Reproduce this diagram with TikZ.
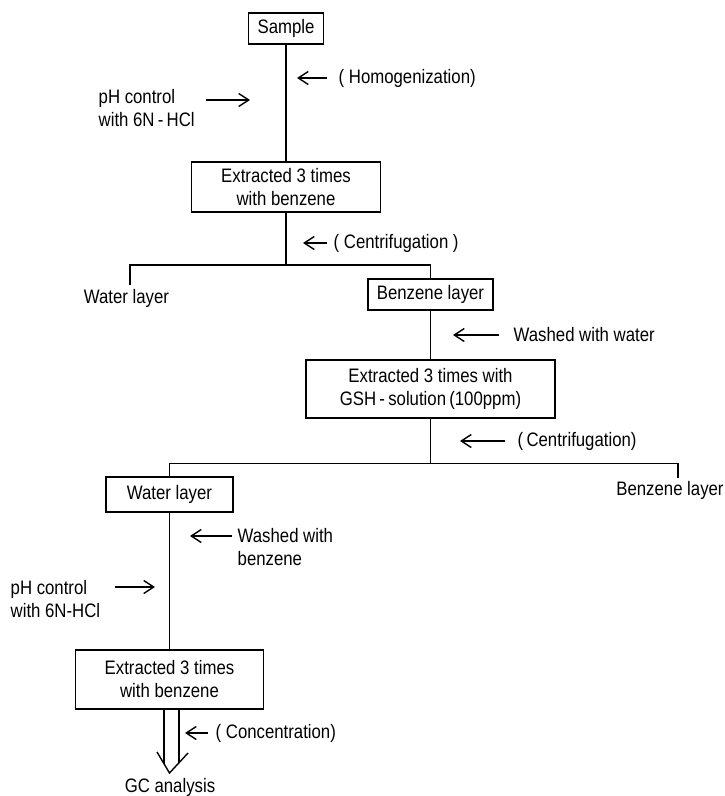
\documentclass[tikz,border=0pt]{standalone}
\usepackage{fontspec}
\setmainfont{Liberation Sans}[FakeStretch=0.86]
\usetikzlibrary{arrows.meta}
\begin{document}
\begin{tikzpicture}[x=1pt,y=-1pt, line width=1.4pt,
  every node/.style={font=\fontsize{19.5}{23}\selectfont, inner sep=0pt},
  box/.style={draw, line width=1.4pt, align=center},
  lbl/.style={anchor=west, align=left},
  arr/.style={-{Straight Barb[length=10pt,width=13pt]}}]
\useasboundingbox (0,0) rectangle (724,796);

% boxes
\node[box, minimum width=75pt, minimum height=31pt] (sample) at (286,28.5) {Sample};
\node[box, minimum width=189pt, minimum height=50pt] (ex1) at (286,187) {Extracted 3 times\\with benzene};
\node[box, minimum width=125pt, minimum height=31pt] (benz1) at (430.5,294.5) {Benzene layer};
\node[box, minimum width=249pt, minimum height=58pt] (ex2) at (430.5,389) {Extracted 3 times with\\GSH\,-\,solution\,(100ppm)};
\node[box, minimum width=127pt, minimum height=35pt] (water2) at (169.5,494.5) {Water layer};
\node[box, minimum width=188pt, minimum height=59pt] (ex3) at (169.5,679.5) {Extracted 3 times\\with benzene};

% plain text nodes
\node (water1) at (126.5,298) {Water layer};
\node (benz2) at (670,490) {Benzene layer};
\node (gc) at (170,787) {GC analysis};

% side labels
\node[lbl] (homog) at (338,78) {( Homogenization)};
\node[lbl] (ph1) at (98,108) {pH control\\with 6N\,-\,HCl};
\node[lbl] (cent1) at (333,243) {( Centrifugation )};
\node[lbl] (wwat) at (513,335) {Washed with water};
\node[lbl] (cent2) at (517,441) {(\,Centrifugation)};
\node[lbl] (wben) at (237,547) {Washed with\\benzene};
\node[lbl] (ph2) at (10,599) {pH control\\with 6N-HCl};
\node[lbl] (conc) at (215,733) {( Concentration)};

% side arrows
\coordinate (a1s) at (327,78); \coordinate (a1e) at (297,78);
\draw[arr] (a1s) -- (a1e);
\coordinate (a2s) at (206,100); \coordinate (a2e) at (250,100);
\draw[arr] (a2s) -- (a2e);
\coordinate (a3s) at (327,243); \coordinate (a3e) at (303,243);
\draw[arr] (a3s) -- (a3e);
\coordinate (a4s) at (499,335); \coordinate (a4e) at (453,335);
\draw[arr] (a4s) -- (a4e);
\coordinate (a5s) at (505,441); \coordinate (a5e) at (460,441);
\draw[arr] (a5s) -- (a5e);
\coordinate (a6s) at (232,536); \coordinate (a6e) at (190,536);
\draw[arr] (a6s) -- (a6e);
\coordinate (a7s) at (115,587); \coordinate (a7e) at (155,587);
\draw[arr] (a7s) -- (a7e);
\coordinate (a8s) at (208,733); \coordinate (a8e) at (185,733);
\draw[arr] (a8s) -- (a8e);

% main flow
\draw (sample.south) -- (ex1.north);
\coordinate (j1) at (286,265);
\coordinate (l1) at (130,265); \coordinate (l1d) at (130,285);
\coordinate (r1) at (430.5,265);
\draw (ex1.south) -- (j1);
\draw (l1d) -- (l1) -- (r1) -- (benz1.north);
\draw (benz1.south) -- (ex2.north);

\coordinate (j2) at (430.5,463.5);
\coordinate (l2) at (169.5,463.5);
\coordinate (r2) at (678,463.5); \coordinate (r2d) at (678,478);
\draw (ex2.south) -- (j2);
\draw (water2.north) -- (l2) -- (r2) -- (r2d);
\draw (water2.south) -- (ex3.north);

% double (hollow) arrow to GC analysis
\coordinate (sl) at (164,709); \coordinate (sle) at (164,763.8);
\coordinate (sr) at (179,709); \coordinate (sre) at (179,762.7);
\coordinate (hl) at (157,752); \coordinate (ht) at (169.5,773); \coordinate (hr) at (188,753);
\draw (sl) -- (sle);
\draw (sr) -- (sre);
\draw[line join=miter] (hl) -- (ht) -- (hr);
\end{tikzpicture}
\end{document}
